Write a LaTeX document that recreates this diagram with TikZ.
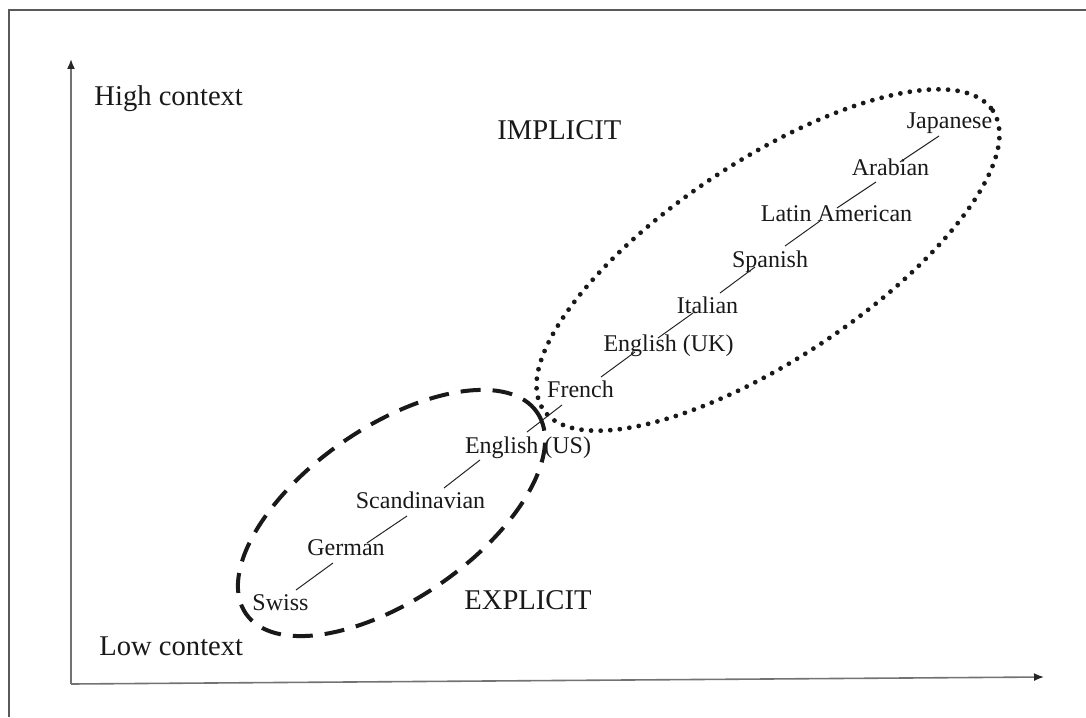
\documentclass[tikz,border=0pt]{standalone}
\usepackage{fontspec}
\setmainfont{Liberation Serif}
\usetikzlibrary{arrows.meta}
\begin{document}
\begin{tikzpicture}[x=0.5pt,y=-0.5pt,
  country/.style={anchor=base, inner sep=0pt, font=\fontsize{12}{14}\selectfont, text=black!90},
  biglabel/.style={anchor=base west, inner sep=0pt, font=\fontsize{14.3}{17}\selectfont, text=black!90},
  link/.style={draw=black!85, line width=0.5pt},
  axis/.style={draw=black!55, line width=0.8pt, -{Latex[length=5pt,width=4pt,color=black!85]}},
  frame/.style={draw=black!65, line width=1pt},
  explicitline/.style={draw=black!90, line width=2pt, dash pattern=on 10pt off 6pt},
  implicitline/.style={draw=black!90, line width=2.4pt, line cap=round, dash pattern=on 0pt off 4.8pt}]
\useasboundingbox (0,0) rectangle (1086,717);

% outer frame
\draw[frame] (9,717) -- (9,10) -- (1086,10);

% axes
\coordinate (origin) at (71,684);
\coordinate (ytop) at (71,59);
\coordinate (xend) at (1044,677);
\draw[axis] (origin) -- (ytop);
\draw[axis] (origin) -- (xend);

% axis and group labels
\node[biglabel] (high) at (94,105) {High context};
\node[biglabel] (low) at (99,655) {Low context};
\node[biglabel] (implicit) at (497,140) {IMPLICIT};
\node[biglabel] (explicit) at (464,609) {EXPLICIT};

% cultures
\node[country] (swiss)    at (280.5,610) {Swiss};
\node[country] (german)   at (346,555)   {German};
\node[country] (scand)    at (420.5,508) {Scandinavian};
\node[country] (engus)    at (528,453)   {English (US)};
\node[country] (french)   at (580.5,397) {French};
\node[country] (enguk)    at (668.5,351) {English (UK)};
\node[country] (italian)  at (707.5,313) {Italian};
\node[country] (spanish)  at (770,267)   {Spanish};
\node[country] (latam)    at (836.5,221) {Latin American};
\node[country] (arabian)  at (890.5,175) {Arabian};
\node[country] (japanese) at (949.5,128) {Japanese};

% links along the scale
\draw[link] ([shift={(15.5,-20)}]swiss.base)  -- ([shift={(-13,8)}]german.base);
\draw[link] ([shift={(21,-12)}]german.base)   -- ([shift={(-13.5,8)}]scand.base);
\draw[link] ([shift={(23.5,-20)}]scand.base)  -- ([shift={(-48,7)}]engus.base);
\draw[link] ([shift={(-1,-21)}]engus.base)    -- ([shift={(-18.5,8)}]french.base);
\draw[link] ([shift={(20.5,-20)}]french.base) -- ([shift={(-33.5,1)}]enguk.base);
\draw[link] ([shift={(-10.5,-13)}]enguk.base) -- ([shift={(-14.5,0)}]italian.base);
\draw[link] ([shift={(12.5,-20)}]italian.base) -- ([shift={(-15,0)}]spanish.base);
\draw[link] ([shift={(15,-21)}]spanish.base)  -- ([shift={(-16.5,0)}]latam.base);
\draw[link] ([shift={(0.5,-13)}]latam.base)   -- ([shift={(-14.5,7)}]arabian.base);
\draw[link] ([shift={(9.5,-13)}]arabian.base) -- ([shift={(-10.5,8)}]japanese.base);

% groupings
\coordinate (explicitc) at (391.5,513);
\coordinate (implicitc) at (768,260);
\draw[explicitline, rotate around={34.7:(explicitc)}] (explicitc) ellipse [x radius=177, y radius=86];
\draw[implicitline, rotate around={33.6:(implicitc)}] (implicitc) ellipse [x radius=270, y radius=99];
\end{tikzpicture}
\end{document}
